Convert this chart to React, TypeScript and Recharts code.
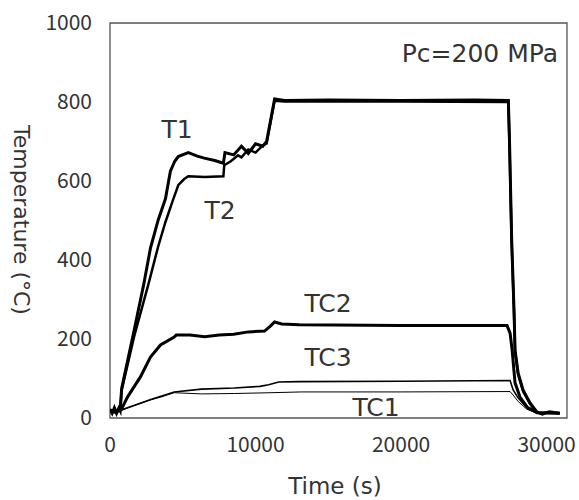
import React from "react";
import { LineChart, Line, XAxis, YAxis, ReferenceArea } from "recharts";

// Time (s) / temperature (°C) readings for each thermocouple
const t1Time = [0, 150, 300, 450, 600, 700, 800, 1600, 2300, 2780, 3300, 3810, 4150, 4450, 4690, 5380, 6000, 6480, 7200, 7790, 7900, 8500, 9030, 9500, 10000, 10500, 10760, 11310, 12000, 15000, 20000, 25000, 27370, 27450, 27600, 27760, 27830, 28040, 28380, 28860, 29340, 29700, 30200, 30900];
const t1Temp = [22, 12, 26, 12, 25, 18, 75, 212, 335, 430, 500, 555, 625, 650, 662, 672, 663, 658, 652, 645, 672, 666, 688, 670, 694, 688, 700, 808, 804, 805, 804, 805, 804, 700, 450, 273, 172, 114, 71, 38, 15, 10, 16, 12];

const t2Time = [0, 350, 700, 800, 1650, 2650, 3300, 3800, 4330, 4700, 5100, 5380, 6500, 7790, 7850, 8300, 8800, 9030, 9500, 10000, 10500, 10760, 11310, 12000, 20000, 27370, 27450, 27600, 27760, 27830, 28040, 28380, 28860, 29340, 30900];
const t2Temp = [20, 15, 22, 70, 205, 340, 433, 495, 552, 590, 605, 612, 610, 612, 640, 650, 665, 660, 680, 672, 690, 695, 803, 801, 801, 800, 690, 440, 265, 168, 110, 68, 36, 14, 12];

const tc2Time = [0, 350, 760, 1200, 2090, 2780, 3470, 4410, 4550, 5500, 6500, 7500, 8500, 9500, 10620, 11000, 11310, 11800, 13000, 20000, 27280, 27490, 27630, 27830, 28170, 28650, 29340, 30900];
const tc2Temp = [20, 15, 20, 53, 104, 154, 185, 205, 210, 210, 206, 210, 212, 218, 220, 232, 243, 238, 236, 234, 234, 215, 172, 89, 53, 28, 13, 12];

const tc3Time = [0, 760, 2800, 3500, 4410, 6280, 8550, 10300, 10900, 11590, 13000, 20000, 27490, 27700, 28040, 28650, 29340, 30900];
const tc3Temp = [20, 20, 47, 55, 66, 73, 76, 80, 84, 91, 92, 93, 95, 71, 51, 25, 13, 12];

const tc1Time = [0, 760, 2800, 3500, 4410, 6280, 8550, 11000, 13170, 20000, 27490, 27700, 28040, 28650, 29340, 30900];
const tc1Temp = [20, 20, 46, 53, 64, 61, 62, 64, 66, 66, 67, 58, 42, 22, 12, 12];

const xTicks = [0, 10000, 20000, 30000];
const yTicks = [0, 200, 400, 600, 800, 1000];

const build = (ts: number[], vs: number[]) => ts.map((t, i) => ({ t, v: vs[i] }));

const series = [
  { name: "T1", data: build(t1Time, t1Temp), w: 3 },
  { name: "T2", data: build(t2Time, t2Temp), w: 2.5 },
  { name: "TC2", data: build(tc2Time, tc2Temp), w: 3 },
  { name: "TC3", data: build(tc3Time, tc3Temp), w: 1.6 },
  { name: "TC1", data: build(tc1Time, tc1Temp), w: 1 },
];

const TICK_FONT = "'Noto Sans CJK JP', 'Noto Sans', sans-serif";
const FONT = "'DejaVu Sans', sans-serif";
const TXT = "#333";

export default function App() {
  return (
    <div style={{ position: "absolute", left: 0, top: 0, width: 579, height: 500, background: "#fff" }}>
      <LineChart width={579} height={500} margin={{ top: 23, right: 12, bottom: 22, left: 0 }}>
        <XAxis
          dataKey="t"
          type="number"
          domain={[0, 31400]}
          ticks={xTicks}
          allowDataOverflow
          axisLine={false}
          tickLine={false}
          tickSize={0}
          tickMargin={19}
          height={60}
          tick={{ fontSize: 21, fill: TXT, fontFamily: TICK_FONT }}
        />
        <YAxis
          type="number"
          domain={[0, 1000]}
          ticks={yTicks}
          allowDataOverflow
          axisLine={false}
          tickLine={false}
          tickSize={0}
          tickMargin={18}
          width={110}
          tick={{ fontSize: 21, fill: TXT, fontFamily: TICK_FONT }}
        />
        <ReferenceArea x1={0} x2={31400} y1={0} y2={1000} fill="none" stroke="#555" strokeWidth={1.3} ifOverflow="visible" />
        {series.map((s) => (
          <Line
            key={s.name}
            data={s.data}
            dataKey="v"
            type="linear"
            stroke="#000"
            strokeWidth={s.w}
            dot={false}
            isAnimationActive={false}
          />
        ))}
      </LineChart>
      <svg width={579} height={500} style={{ position: "absolute", left: 0, top: 0, pointerEvents: "none" }}>
        <g fontFamily={FONT} fill={TXT}>
          <text x={558} y={53} fontSize={25} textAnchor="end" dominantBaseline="central">Pc=200 MPa</text>
          <text x={177} y={129} fontSize={25} textAnchor="middle" dominantBaseline="central">T1</text>
          <text x={220} y={210} fontSize={25} textAnchor="middle" dominantBaseline="central">T2</text>
          <text x={328} y={303} fontSize={25} textAnchor="middle" dominantBaseline="central">TC2</text>
          <text x={328} y={357} fontSize={25} textAnchor="middle" dominantBaseline="central">TC3</text>
          <text x={376} y={407} fontSize={25} textAnchor="middle" dominantBaseline="central">TC1</text>
          <text x={335} y={486} fontSize={23} textAnchor="middle" dominantBaseline="central">Time (s)</text>
          <text x={21} y={220} fontSize={22} textAnchor="middle" dominantBaseline="central" transform="rotate(90 21 220)">Temperature (°C)</text>
        </g>
      </svg>
    </div>
  );
}
